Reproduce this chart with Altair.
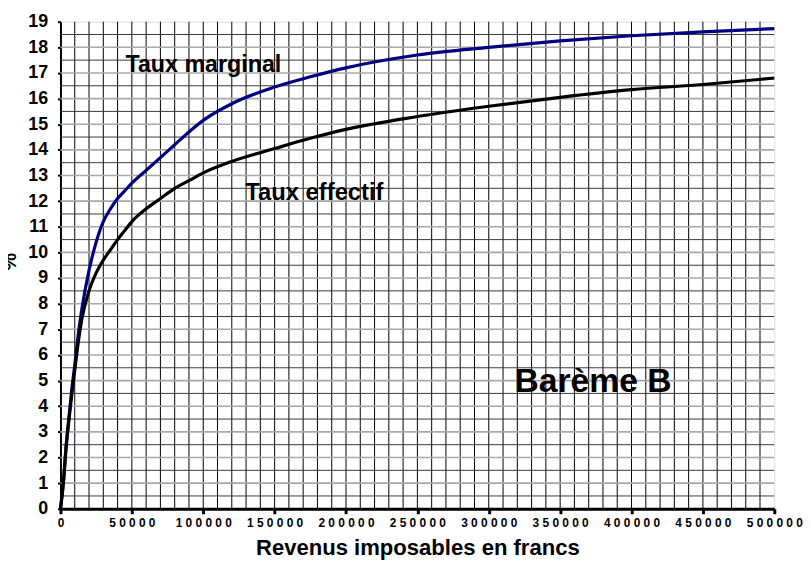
import altair as alt
import pandas as pd

revenu = [0, 2000, 4000, 6000, 8000, 10000, 12000, 15000, 20000, 25000, 30000, 35000,
          40000, 45000, 50000, 60000, 70000, 80000, 90000, 100000, 120000, 150000,
          175000, 200000, 250000, 300000, 350000, 400000, 450000, 500000]
taux_marginal = [0, 1.0, 2.5, 3.6, 4.7, 5.6, 6.6, 7.8, 9.3, 10.4, 11.2, 11.7,
                 12.1, 12.4, 12.7, 13.2, 13.7, 14.2, 14.7, 15.15, 15.8, 16.45,
                 16.85, 17.2, 17.7, 18.0, 18.25, 18.45, 18.6, 18.73]
taux_effectif = [0, 1.0, 2.4, 3.5, 4.5, 5.4, 6.3, 7.4, 8.5, 9.2, 9.7, 10.1,
                 10.5, 10.85, 11.2, 11.7, 12.1, 12.5, 12.8, 13.1, 13.55, 14.05,
                 14.45, 14.8, 15.3, 15.7, 16.05, 16.35, 16.55, 16.8]

series_names = ["Taux marginal", "Taux effectif"]
series_colors = ["#000080", "#000000"]

annot_text = ["Taux marginal", "Taux effectif", "Barème B"]
annot_x = [45500, 129500, 318000]
annot_y = [17.3, 12.3, 4.95]
annot_size = [23.5, 24, 34]

x_ticks = list(range(0, 500001, 50000))
y_ticks = list(range(0, 20))

df = pd.DataFrame({
    "revenu": revenu * 2,
    "taux": taux_marginal + taux_effectif,
    "serie": [series_names[0]] * len(revenu) + [series_names[1]] * len(revenu),
})

xs = alt.Scale(domain=[0, 500000], nice=False, zero=False)
ys = alt.Scale(domain=[0, 19], nice=False)

FONT = "Liberation Sans"

xaxis = alt.Axis(values=x_ticks, format="d", title="Revenus imposables en francs",
                 labelExpr="join(split(datum.label, ''), ' ')",
                 labelFont=FONT, labelFontSize=12, labelFontWeight="bold",
                 labelColor="#000", labelPadding=4,
                 domainColor="#000", domainWidth=3,
                 tickColor="#000", tickWidth=3, tickSize=5,
                 titleFont=FONT, titleFontSize=22.3, titleFontWeight="bold",
                 titleColor="#000", titlePadding=8, grid=False,
                 labelOverlap=False, labelFlush=False)
yaxis = alt.Axis(values=y_ticks, title="%",
                 labelFont=FONT, labelFontSize=18, labelFontWeight="bold",
                 labelColor="#000", labelPadding=10, labelOverlap=False,
                 domainColor="#000", domainWidth=2,
                 tickColor="#000", tickWidth=2, tickSize=3,
                 titleFont=FONT, titleFontSize=20, titleFontWeight="bold",
                 titleColor="#000", titleX=-45, titleY=242, titleAngle=270,
                 titleAlign="center", titleBaseline="alphabetic",
                 grid=False)

vgrid = alt.Chart(pd.DataFrame({"g": list(range(10000, 500000, 10000))})).mark_rule(
    color="#000000", strokeWidth=1).encode(
    x=alt.X("g:Q", scale=xs, axis=xaxis, title="Revenus imposables en francs"))
hhalf = alt.Chart(pd.DataFrame({"h": [i + 0.5 for i in range(19)]})).mark_rule(
    color="#3a3a3a", strokeWidth=1).encode(
    y=alt.Y("h:Q", scale=ys, axis=yaxis, title="%"))
hint = alt.Chart(pd.DataFrame({"h": list(range(1, 19))})).mark_rule(
    color="#a8a8a8", strokeWidth=1.6).encode(
    y=alt.Y("h:Q", scale=ys, axis=yaxis, title="%"))

lines = alt.Chart(df).mark_line(strokeWidth=3.2, interpolate="monotone").encode(
    x=alt.X("revenu:Q", scale=xs, axis=xaxis, title="Revenus imposables en francs"),
    y=alt.Y("taux:Q", scale=ys, axis=yaxis, title="%"),
    color=alt.Color("serie:N", scale=alt.Scale(domain=series_names, range=series_colors),
                    legend=None),
    detail="serie:N",
)

ann = pd.DataFrame({"t": annot_text, "x": annot_x, "y": annot_y, "s": annot_size})
texts = alt.Chart(ann).mark_text(align="left", baseline="middle", font=FONT,
                                 fontWeight="bold", color="#000").encode(
    x=alt.X("x:Q", scale=xs, axis=xaxis, title="Revenus imposables en francs"),
    y=alt.Y("y:Q", scale=ys, axis=yaxis, title="%"), text="t:N",
    size=alt.Size("s:Q", scale=None, legend=None))

chart = alt.layer(vgrid, hhalf, hint, lines, texts).properties(
    width=721, height=492,
    autosize=alt.AutoSizeParams(type="none"),
    padding={"left": 53, "top": 11, "right": 29, "bottom": 58},
).configure_view(stroke="#9a9a9a", strokeWidth=2).configure(background="white")

chart.save("out.html", embed_options={"renderer": "svg", "actions": False})
